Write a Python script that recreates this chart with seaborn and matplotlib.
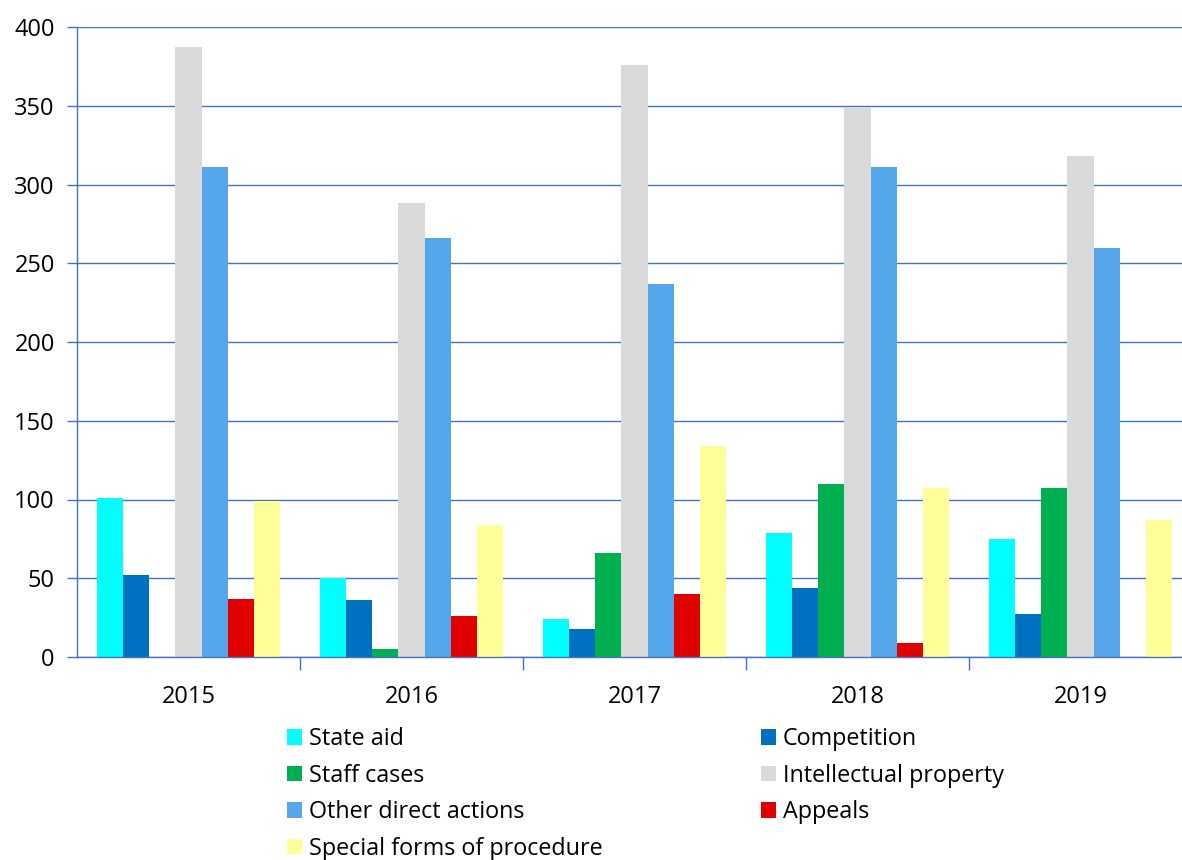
import matplotlib
matplotlib.use("Agg")
import matplotlib.pyplot as plt
import seaborn as sns
import pandas as pd

years = ["2015", "2016", "2017", "2018", "2019"]
state_aid = [101, 50, 24, 79, 75]
competition = [52, 36, 18, 44, 27]
staff_cases = [0, 5, 66, 110, 107]
intellectual_property = [387, 288, 376, 349, 318]
other_direct_actions = [311, 266, 237, 311, 260]
appeals = [37, 26, 40, 9, 0]
special_forms = [99, 84, 134, 107, 87]

series_names = ["State aid", "Competition", "Staff cases", "Intellectual property",
                "Other direct actions", "Appeals", "Special forms of procedure"]
series_values = [state_aid, competition, staff_cases, intellectual_property,
                 other_direct_actions, appeals, special_forms]
colors = ["#00FFFF", "#0070C0", "#00B050", "#D9D9D9", "#55A6EA", "#E00000", "#FFFF99"]

rows = []
for name, vals in zip(series_names, series_values):
    for y, v in zip(years, vals):
        rows.append({"year": y, "series": name, "value": v})
df = pd.DataFrame(rows)

sns.set_theme(style="white")
plt.rcParams["font.family"] = ["Open Sans", "DejaVu Sans"]

fig = plt.figure(figsize=(11.82, 8.6), dpi=100)
ax = fig.add_axes([77 / 1182, 1 - 657 / 860, (1192 - 77) / 1182, (657 - 27) / 860])

sns.barplot(data=df, x="year", y="value", hue="series", hue_order=series_names,
            palette=dict(zip(series_names, colors)), width=0.82, gap=0,
            saturation=1, linewidth=0, ax=ax, legend=True)

grid_color = "#4472C4"
ax.set_ylim(0, 400)
ax.set_xlim(-0.5, 4.5)
ax.set_yticks(range(0, 401, 50))
ax.yaxis.grid(True, color=grid_color, linewidth=1)
ax.set_axisbelow(True)
for s in ["top", "right"]:
    ax.spines[s].set_visible(False)
for s in ["left", "bottom"]:
    ax.spines[s].set_color(grid_color)
    ax.spines[s].set_linewidth(1)
ax.set_xlabel("")
ax.set_ylabel("")
ax.tick_params(axis="y", which="major", length=7, color=grid_color, width=1,
               labelsize=17, pad=9, left=True)
ax.tick_params(axis="x", which="major", length=0, labelsize=17, pad=20)
ax.set_xticks([0.5, 1.5, 2.5, 3.5], minor=True)
ax.tick_params(axis="x", which="minor", length=9, color=grid_color, width=1, bottom=True)
for lbl in ax.get_yticklabels() + ax.get_xticklabels():
    lbl.set_color("black")

handles, labels = ax.get_legend_handles_labels()
order = [0, 2, 4, 6, 1, 3, 5]
leg = ax.legend([handles[i] for i in order], [labels[i] for i in order],
                ncol=2, frameon=False, fontsize=16.8,
                loc="upper left", bbox_to_anchor=(287 / 1182, 1 - 727 / 860),
                bbox_transform=fig.transFigure,
                handlelength=0.65, handleheight=0.65, handletextpad=0.3,
                columnspacing=6.77, labelspacing=0.54, borderpad=0, borderaxespad=0)
for t in leg.get_texts():
    t.set_color("black")

fig.savefig("out.png", dpi=100)
